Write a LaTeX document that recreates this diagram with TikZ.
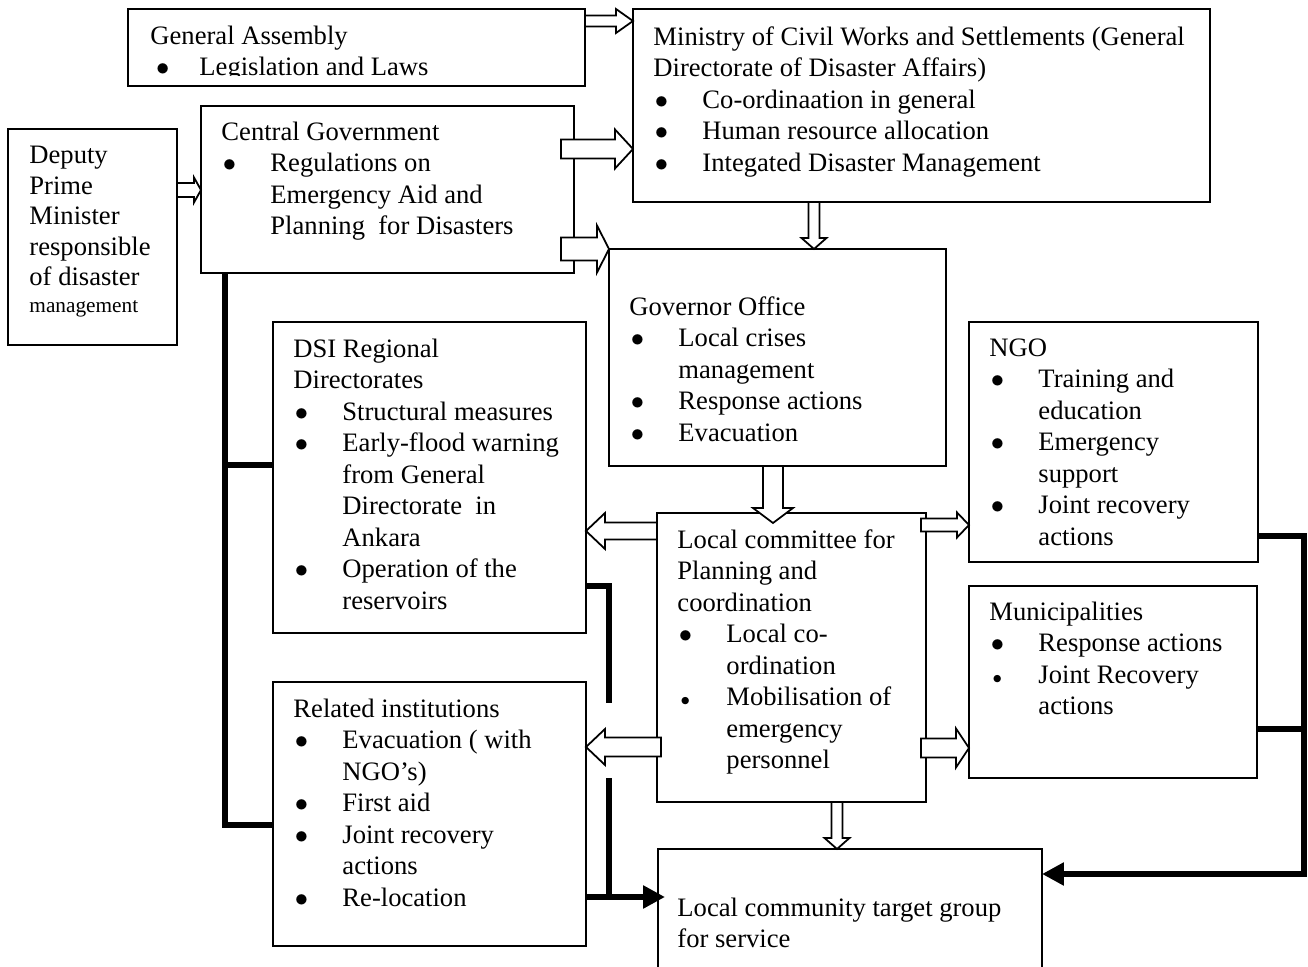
\documentclass[tikz,border=0pt]{standalone}
\usepackage{fontspec}
\setmainfont{Liberation Serif}
\usetikzlibrary{calc,arrows.meta}
\def\pxu{0.451pt}
\newcommand{\hd}[1]{\multicolumn{2}{@{}l@{}}{#1}}
\newcommand{\bul}[1][0.6pt]{\makebox[22.1pt][l]{\hspace{#1}$\bullet$}}
\newcommand{\sbul}{\makebox[22.1pt][l]{\hspace{1.4pt}{\fontsize{8.5}{10}\selectfont$\bullet$}}}
\tikzset{
  box/.style 2 args={draw, line width=0.8pt, inner sep=0pt, outer sep=0pt, minimum width=#1*\pxu, minimum height=#2*\pxu},
  txt/.style={inner sep=0pt, anchor=north west, font=\fontsize{12}{14.2}\selectfont},
  thickrule/.style={line width=2.8pt},
  headend/.style={-{Triangle[length=9.9pt,width=9.9pt]}},
  hollow/.style n args={3}{fill=white, line width=0.8pt, to path={
    let \p1=(\tikztostart), \p2=(\tikztotarget),
        \n1={veclen(\x2-\x1,\y2-\y1)}, \n2={atan2(\y2-\y1,\x2-\x1)}
    in {[shift={(\p1)}, rotate=\n2]
      (0pt,-#1*\pxu) -- ({\n1-#3*\pxu},-#1*\pxu) -- ({\n1-#3*\pxu},-#2*\pxu)
      -- ({\n1+0pt},0pt) -- ({\n1-#3*\pxu},#2*\pxu) -- ({\n1-#3*\pxu},#1*\pxu)
      -- (0pt,#1*\pxu) -- cycle}}}
}
\begin{document}
\begin{tikzpicture}[x=0.451pt, y=-0.451pt]
\useasboundingbox[fill=white] (0,0) rectangle (1308,967);

\node[box={457}{77}] (ga) at (356.5,47.5) {};
\node[box={577}{193}] (min) at (921.5,105.5) {};
\node[box={373}{167}] (cg) at (387.5,189.5) {};
\node[box={169}{216}] (dpm) at (92.5,237) {};
\node[box={337}{217}] (gov) at (777.5,357.5) {};
\node[box={313}{311}] (dsi) at (429.5,477.5) {};
\node[box={289}{240}] (ngo) at (1113.5,442) {};
\node[box={269}{289}] (lc) at (791.5,657.5) {};
\node[box={288}{192}] (mun) at (1113,682) {};
\node[box={313}{264}] (rel) at (429.5,814) {};
\node[box={384}{141}] (tgt) at (850,919.5) {};

\begin{scope}
\clip (ga.north west) rectangle ([shift={(0,-10)}]ga.south east);
\node[txt] (gatext) at ([shift={(22,13)}]ga.north west) {\begin{tabular}{@{}l@{}l@{}}
\hd{General Assembly}\\
\bul[2.6pt] & Legislation and Laws
\end{tabular}};
\end{scope}

\node[txt] (mintext) at ([shift={(20,14)}]min.north west) {\begin{tabular}{@{}l@{}l@{}}
\hd{Ministry of Civil Works and Settlements (General}\\
\hd{Directorate of Disaster Affairs)}\\
\bul & Co-ordinaation in general\\
\bul & Human resource allocation\\
\bul & Integated Disaster Management
\end{tabular}};

\node[txt] (cgtext) at ([shift={(20,12)}]cg.north west) {\begin{tabular}{@{}l@{}l@{}}
\hd{Central Government}\\
\bul & Regulations on\\
 & Emergency Aid and\\
 & Planning\ \ for Disasters
\end{tabular}};

\node[txt] (dpmtext) at ([shift={(21,13)}]dpm.north west) {\def\arraystretch{0.97}\begin{tabular}{@{}l@{}}
Deputy\\
Prime\\
Minister\\
responsible\\
of disaster\\[-2pt]
{\fontsize{9.6}{11}\selectfont management}
\end{tabular}};

\node[txt] (govtext) at ([shift={(20,44)}]gov.north west) {\begin{tabular}{@{}l@{}l@{}}
\hd{Governor Office}\\
\bul & Local crises\\
 & management\\
\bul & Response actions\\
\bul & Evacuation
\end{tabular}};

\node[txt] (dsitext) at ([shift={(20,13)}]dsi.north west) {\begin{tabular}{@{}l@{}l@{}}
\hd{DSI Regional}\\
\hd{Directorates}\\
\bul & Structural measures\\
\bul & Early-flood warning\\
 & from General\\
 & Directorate\ \ in\\
 & Ankara\\
\bul & Operation of the\\
 & reservoirs
\end{tabular}};

\node[txt] (ngotext) at ([shift={(20,12)}]ngo.north west) {\begin{tabular}{@{}l@{}l@{}}
\hd{NGO}\\
\bul & Training and\\
 & education\\
\bul & Emergency\\
 & support\\
\bul & Joint recovery\\
 & actions
\end{tabular}};

\node[txt] (lctext) at ([shift={(20,13)}]lc.north west) {\begin{tabular}{@{}l@{}l@{}}
\hd{Local committee for}\\
\hd{Planning and}\\
\hd{coordination}\\
\bul & Local co-\\
 & ordination\\
\sbul & Mobilisation of\\
 & emergency\\
 & personnel
\end{tabular}};

\node[txt] (muntext) at ([shift={(20,12)}]mun.north west) {\begin{tabular}{@{}l@{}l@{}}
\hd{Municipalities}\\
\bul & Response actions\\
\sbul & Joint Recovery\\
 & actions
\end{tabular}};

\node[txt] (reltext) at ([shift={(20,13)}]rel.north west) {\begin{tabular}{@{}l@{}l@{}}
\hd{Related institutions}\\
\bul & Evacuation ( with\\
 & NGO’s)\\
\bul & First aid\\
\bul & Joint recovery\\
 & actions\\
\bul & Re-location
\end{tabular}};

\node[txt] (tgttext) at ([shift={(19,45)}]tgt.north west) {\begin{tabular}{@{}l@{}}
Local community target group\\
for service
\end{tabular}};

\coordinate (gaptop) at (609,703);
\coordinate (gapbot) at (609,778);
\coordinate (rjoin) at (1304,874);
\draw[thickrule] (cg.south -| 225,0) |- (rel.west |- 0,825);
\draw[thickrule] (dsi.west |- 0,465) -| (cg.south -| 225,0);
\draw[thickrule] (dsi.east |- 0,586) -| (gaptop);
\draw[thickrule] (gapbot) -- (gapbot |- 0,897);
\draw[thickrule, headend] (rel.east |- 0,897) -- ($(tgt.west |- 0,897)+(7,0)$);
\draw[thickrule, headend] (ngo.east |- 0,536) -| (rjoin) -- (tgt.east |- rjoin);
\draw[thickrule] (mun.east |- 0,729) -- (rjoin |- 0,729);

\draw[hollow={5.5}{12}{17}] (ga.east |- 0,21) to (min.west |- 0,21);
\draw[hollow={9.5}{19.5}{18}] ($(cg.east |- 0,149)+(-13,0)$) to (min.west |- 0,149);
\draw[hollow={11.5}{23.5}{12}] ($(cg.east |- 0,249)+(-13,0)$) to (gov.north west);
\draw[hollow={7}{12.5}{7}] (dpm.east |- 0,190) to (cg.west |- 0,190);
\draw[hollow={5.5}{12.5}{11}] (min.south -| 814,0) to (gov.north -| 814,0);
\draw[hollow={10}{20}{15}] (gov.south -| 773,0) to ($(lc.north -| 773,0)+(0,10)$);
\draw[hollow={8.5}{18}{19}] (lc.west |- 0,531) to (dsi.east |- 0,531);
\draw[hollow={9.5}{18}{19}] ($(lc.west |- 0,747)+(4,0)$) to (rel.east |- 0,747);
\draw[hollow={6.5}{12.5}{12}] ($(lc.east |- 0,525)+(-5,0)$) to (ngo.west |- 0,525);
\draw[hollow={9.5}{19.5}{13}] ($(lc.east |- 0,748)+(-5,0)$) to (mun.west |- 0,748);
\draw[hollow={5.5}{12.5}{11}] (lc.south -| 837,0) to (tgt.north -| 837,0);
\end{tikzpicture}
\end{document}
